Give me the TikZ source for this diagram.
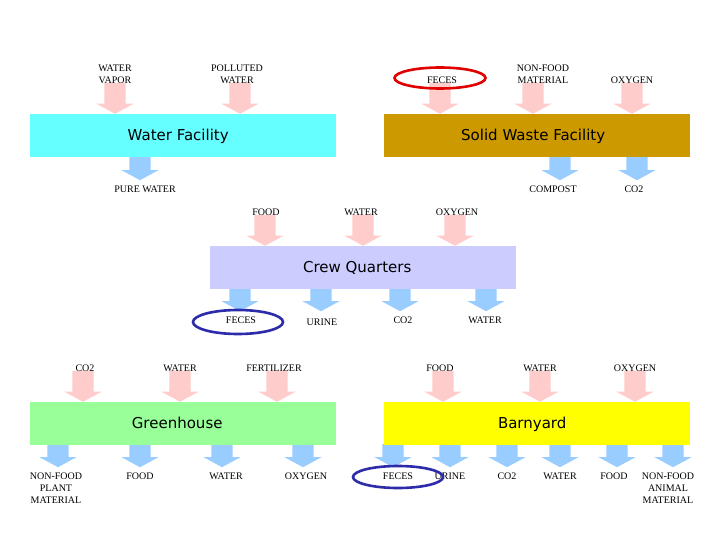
\documentclass[tikz,border=0pt]{standalone}
\usepackage{fontspec}
\usetikzlibrary{shapes.arrows,shapes.geometric}
\newfontfamily\titlefont{DejaVu Sans}
\newfontfamily\labelfont{Liberation Serif}
\definecolor{waterCyan}{RGB}{102,255,255}
\definecolor{wasteGold}{RGB}{204,153,0}
\definecolor{crewLilac}{RGB}{204,204,255}
\definecolor{greenMint}{RGB}{153,255,153}
\definecolor{barnYellow}{RGB}{255,255,0}
\definecolor{inPink}{RGB}{255,204,204}
\definecolor{outBlue}{RGB}{153,204,255}
\definecolor{markRed}{RGB}{224,0,0}
\definecolor{markNavy}{RGB}{44,44,170}

\begin{document}
\begin{tikzpicture}[x=1pt,y=-1pt,
  facility/.style={minimum width=306pt,minimum height=43pt,inner sep=0pt,text height=11pt,text depth=2pt,anchor=north west,font=\titlefont\fontsize{15}{18}\selectfont},
  flow/.style={single arrow,rotate=-90,inner xsep=0pt,inner ysep=10.5pt,single arrow head extend=8pt,single arrow tip angle=123},
  inflow/.style={flow,fill=inPink,minimum height=31pt,anchor=tip},
  outflow/.style={flow,fill=outBlue,minimum height=23pt,anchor=tail},
  lab/.style={align=center,inner sep=0pt,font=\labelfont\fontsize{10}{12}\selectfont},
  ring/.style={ellipse,line width=2.6pt,inner sep=0pt}]
\path[use as bounding box,fill=white] (0,0) rectangle (720,540);

% Water Facility
\node[inflow] (wfIn1) at (115,114) {};
\node[inflow] (wfIn2) at (240,114) {};
\node[outflow] (wfOut1) at (140,157) {};
\node[facility,fill=waterCyan] (water) at (30,114) {\hspace*{-10pt}Water Facility};
\node[lab] (wfLab1) at (115,74) {WATER\\VAPOR};
\node[lab] (wfLab2) at (237,74) {POLLUTED\\WATER};
\node[lab] (wfLab3) at (145,189) {PURE WATER};

% Solid Waste Facility
\node[inflow] (swIn1) at (440,114) {};
\node[inflow] (swIn2) at (533,114) {};
\node[inflow] (swIn3) at (632,114) {};
\node[outflow] (swOut1) at (560,157) {};
\node[outflow] (swOut2) at (637,157) {};
\node[facility,fill=wasteGold] (waste) at (384,114) {\hspace*{-8pt}Solid Waste Facility};
\node[lab] (swLab1) at (442,80) {FECES};
\node[lab] (swLab2) at (543,74) {NON-FOOD\\MATERIAL};
\node[lab] (swLab3) at (632,80) {OXYGEN};
\node[lab] (swLab4) at (553,189) {COMPOST};
\node[lab] (swLab5) at (634,189) {CO2};

% Crew Quarters
\node[inflow] (cqIn1) at (265,246) {};
\node[inflow] (cqIn2) at (363,246) {};
\node[inflow] (cqIn3) at (455,246) {};
\node[outflow] (cqOut1) at (240,288) {};
\node[outflow] (cqOut2) at (321,288) {};
\node[outflow] (cqOut3) at (400,288) {};
\node[outflow] (cqOut4) at (486,288) {};
\node[facility,fill=crewLilac] (crew) at (210,246) {\hspace*{-12pt}Crew Quarters};
\node[lab] (cqLab1) at (266,212) {FOOD};
\node[lab] (cqLab2) at (361,212) {WATER};
\node[lab] (cqLab3) at (457,212) {OXYGEN};
\node[lab] (cqLab4) at (241,320) {FECES};
\node[lab] (cqLab5) at (322,322) {URINE};
\node[lab] (cqLab6) at (403,320) {CO2};
\node[lab] (cqLab7) at (485,320) {WATER};

% Greenhouse
\node[inflow] (ghIn1) at (83,402) {};
\node[inflow] (ghIn2) at (180,402) {};
\node[inflow] (ghIn3) at (277,402) {};
\node[outflow] (ghOut1) at (58,444) {};
\node[outflow] (ghOut2) at (140,444) {};
\node[outflow] (ghOut3) at (222,444) {};
\node[outflow] (ghOut4) at (303,444) {};
\node[facility,fill=greenMint] (green) at (30,402) {\hspace*{-12pt}Greenhouse};
\node[lab] (ghLab1) at (85,368) {CO2};
\node[lab] (ghLab2) at (180,368) {WATER};
\node[lab] (ghLab3) at (274,368) {FERTILIZER};
\node[lab] (ghLab4) at (56,488) {NON-FOOD\\PLANT\\MATERIAL};
\node[lab] (ghLab5) at (140,476) {FOOD};
\node[lab] (ghLab6) at (226,476) {WATER};
\node[lab] (ghLab7) at (306,476) {OXYGEN};

% Barnyard
\node[inflow] (byIn1) at (443,402) {};
\node[inflow] (byIn2) at (540,402) {};
\node[inflow] (byIn3) at (635,402) {};
\node[outflow] (byOut1) at (393,444) {};
\node[outflow] (byOut2) at (450,444) {};
\node[outflow] (byOut3) at (507,444) {};
\node[outflow] (byOut4) at (560,444) {};
\node[outflow] (byOut5) at (617,444) {};
\node[outflow] (byOut6) at (673,444) {};
\node[facility,fill=barnYellow] (barn) at (384,402) {\hspace*{-10pt}Barnyard};
\node[lab] (byLab1) at (440,368) {FOOD};
\node[lab] (byLab2) at (540,368) {WATER};
\node[lab] (byLab3) at (635,368) {OXYGEN};
\node[lab] (byLab4) at (398,476) {FECES};
\node[lab] (byLab5) at (450,476) {URINE};
\node[lab] (byLab6) at (507,476) {CO2};
\node[lab] (byLab7) at (560,476) {WATER};
\node[lab] (byLab8) at (614,476) {FOOD};
\node[lab] (byLab9) at (668,488) {NON-FOOD\\ANIMAL\\MATERIAL};

% Feces markers
\node[ring,draw=markRed,minimum width=91pt,minimum height=21pt] (swRing) at (440,78) {};
\node[ring,draw=markNavy,minimum width=90pt,minimum height=24pt] (cqRing) at (238,322) {};
\node[ring,draw=markNavy,minimum width=90pt,minimum height=22pt] (byRing) at (398,477) {};
\end{tikzpicture}
\end{document}
